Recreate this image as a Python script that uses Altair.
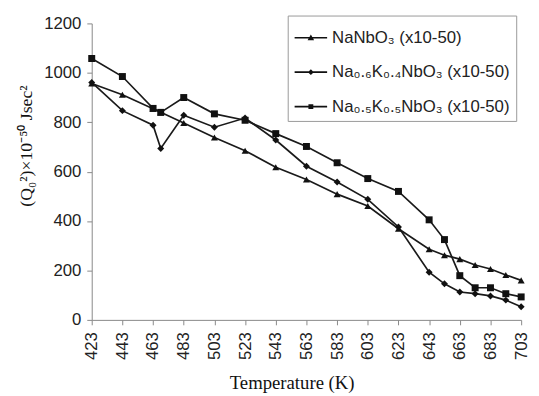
import altair as alt
import pandas as pd

temps = [423, 443, 463, 468, 483, 503, 523, 543, 563, 583, 603, 623, 643, 653, 663, 673, 683, 693, 703]
nanbo3 = [957, 911, 855, 840, 797, 738, 685, 618, 568, 509, 461, 369, 286, 262, 246, 222, 206, 182, 160]
na06k04 = [961, 847, 788, 694, 828, 780, 817, 728, 622, 558, 488, 376, 193, 146, 113, 106, 97, 80, 53]
na05k05 = [1058, 985, 856, 840, 900, 834, 808, 754, 702, 636, 572, 520, 405, 325, 179, 130, 130, 106, 93]
series_names = ["NaNbO\u2083 (x10-50)", "Na\u2080.\u2086K\u2080.\u2084NbO\u2083 (x10-50)", "Na\u2080.\u2085K\u2080.\u2085NbO\u2083 (x10-50)"]
x_ticks = [423, 443, 463, 483, 503, 523, 543, 563, 583, 603, 623, 643, 663, 683, 703]
y_ticks = [0, 200, 400, 600, 800, 1000, 1200]

rows = []
for name, vals in zip(series_names, [nanbo3, na06k04, na05k05]):
    for t, v in zip(temps, vals):
        rows.append({"T": t, "Q": v, "series": name})
df = pd.DataFrame(rows)

x = alt.X("T:Q", scale=alt.Scale(domain=[423, 703], nice=False, zero=False),
          axis=alt.Axis(values=x_ticks, labelAngle=270, title="Temperature (K)", grid=False, format="d",
                        tickSize=5, labelPadding=7, domainColor="#888", tickColor="#888",
                        labelFont="Liberation Sans", labelFontSize=17, labelColor="#222",
                        titleFont="Liberation Serif", titleFontSize=19, titleFontWeight="normal",
                        titleColor="#111", titleX=203, titleY=70, titleBaseline="alphabetic"))
y = alt.Y("Q:Q", scale=alt.Scale(domain=[0, 1200], nice=False),
          axis=alt.Axis(values=y_ticks, title="(Q\u2080\u00b2)\u00d710\u207b\u2075\u2070 Jsec\u00b2", grid=False, format="d",
                        tickSize=5, labelPadding=6, domainColor="#888", tickColor="#888",
                        labelFont="Liberation Sans", labelFontSize=17, labelColor="#222",
                        titleFont="Liberation Serif", titleFontSize=18, titleFontWeight="normal",
                        titleColor="#111", titleX=-66, titleY=124, titleAngle=270, titleBaseline="middle"))

base = alt.Chart(df)
lines = base.mark_line(color="#1a1a1a", strokeWidth=1.7).encode(x=x, y=y, detail="series:N")
points = base.mark_point(filled=True, color="#111", size=50, opacity=1).encode(
    x=x, y=y,
    shape=alt.Shape("series:N", scale=alt.Scale(domain=series_names, range=["triangle-up", "diamond", "square"]), legend=None))

leg_paths = [
    "M-1,-0.05H1V0.05H-1ZM-0.2,0.16L0,-0.2L0.2,0.16Z",
    "M-1,-0.05H1V0.05H-1ZM0,-0.18L0.18,0L0,0.18L-0.18,0Z",
    "M-1,-0.05H1V0.05H-1ZM-0.15,-0.15H0.15V0.15H-0.15Z",
]
legend_layer = base.mark_point(filled=True, color="#111", size=1089).encode(
    x=x, y=y,
    shape=alt.Shape("series:N", scale=alt.Scale(domain=series_names, range=leg_paths),
                    legend=alt.Legend(title=None, orient="none", legendX=199, legendY=-8, padding=6,
                                      rowPadding=10, symbolOffset=1, labelOffset=5,
                                      labelFont="Liberation Sans", labelFontSize=17, labelColor="#222",
                                      strokeColor="#999", fillColor="white", symbolSize=1089,
                                      symbolStrokeWidth=0, symbolFillColor="#111", symbolOpacity=1,
                                      labelLimit=400))
).transform_filter("false")

chart = alt.layer(lines, points, legend_layer).resolve_scale(shape="independent").properties(
    width=436, height=301,
    autosize=alt.AutoSizeParams(type="none"),
    padding={"left": 85, "top": 12.7, "right": 10, "bottom": 74},
    background="white",
).configure_view(stroke=None)

chart.save("out.html", embed_options={"renderer": "svg", "actions": False})
